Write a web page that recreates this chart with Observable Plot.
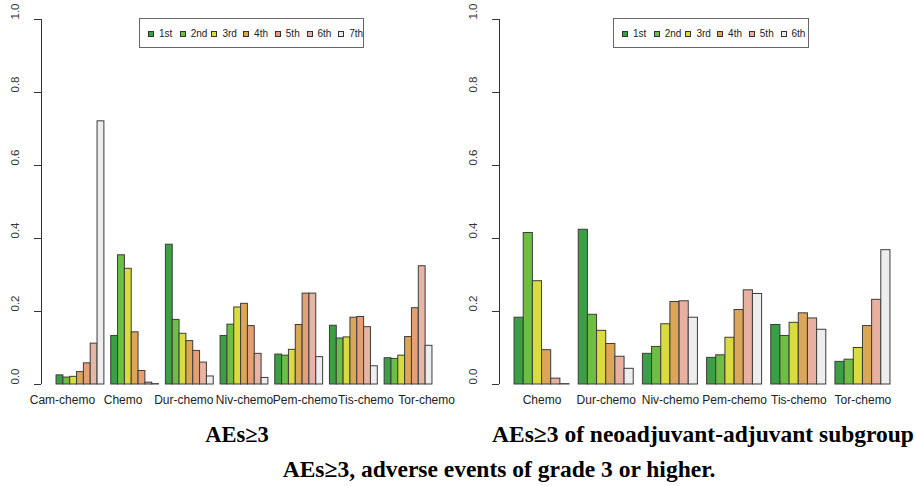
<!DOCTYPE html>
<html>
<head>
<meta charset="utf-8">
<script src="https://cdn.jsdelivr.net/npm/d3@7"></script>
<script src="https://cdn.jsdelivr.net/npm/@observablehq/plot@0.6"></script>
<style>
  html, body { margin: 0; padding: 0; background: #fff; }
  #wrap { position: relative; width: 916px; height: 486px; overflow: hidden; font-family: "Liberation Sans", Arial, sans-serif; }
  .panel { position: absolute; top: 0; }
  .legend { position: absolute; border: 1px solid #666; background: #fff; box-sizing: border-box; }
  .sw { position: absolute; width: 6px; height: 6px; border: 1px solid #333; box-sizing: border-box; }
  .lt { position: absolute; font-family: "Liberation Sans Narrow", "Liberation Sans", Arial, sans-serif; font-size: 10px; line-height: 10px; color: #222; }
  .title { position: absolute; font-family: "Liberation Serif", "Times New Roman", serif; font-weight: bold; font-size: 23.5px; line-height: 24px; white-space: nowrap; text-align: center; color: #000; }
</style>
</head>
<body>
<div id="wrap"></div>
<script>
// ---------- data ----------
const groupsAll = ["Cam-chemo", "Chemo", "Dur-chemo", "Niv-chemo", "Pem-chemo", "Tis-chemo", "Tor-chemo"];
const seriesAll = ["1st", "2nd", "3rd", "4th", "5th", "6th", "7th"];
const valuesAll = [
  [0.025, 0.019, 0.021, 0.034, 0.058, 0.112, 0.721],
  [0.133, 0.354, 0.317, 0.143, 0.037, 0.005, 0.001],
  [0.383, 0.177, 0.139, 0.119, 0.092, 0.060, 0.022],
  [0.133, 0.164, 0.211, 0.221, 0.160, 0.084, 0.018],
  [0.082, 0.079, 0.095, 0.163, 0.249, 0.249, 0.075],
  [0.161, 0.126, 0.129, 0.183, 0.185, 0.157, 0.050],
  [0.072, 0.070, 0.079, 0.130, 0.209, 0.324, 0.106]
];
const colorsAll = ["#3a9f45", "#6ebe44", "#d9db3f", "#dca657", "#e4a074", "#e8b4a5", "#ededed"];

const groupsNeo = ["Chemo", "Dur-chemo", "Niv-chemo", "Pem-chemo", "Tis-chemo", "Tor-chemo"];
const seriesNeo = ["1st", "2nd", "3rd", "4th", "5th", "6th"];
const valuesNeo = [
  [0.183, 0.415, 0.283, 0.094, 0.016, 0.001],
  [0.424, 0.191, 0.147, 0.111, 0.076, 0.043],
  [0.084, 0.103, 0.165, 0.226, 0.228, 0.183],
  [0.073, 0.080, 0.128, 0.204, 0.258, 0.248],
  [0.163, 0.133, 0.169, 0.195, 0.181, 0.150],
  [0.062, 0.068, 0.100, 0.160, 0.232, 0.368]
];
const colorsNeo = ["#3a9f45", "#6ebe44", "#d9db3f", "#dca657", "#e8b0a0", "#ededed"];

const yTicks = [0, 0.2, 0.4, 0.6, 0.8, 1.0];
const titleAll = "AEs≥3";
const titleNeo = "AEs≥3 of neoadjuvant-adjuvant subgroup";
const caption = "AEs≥3, adverse events of grade 3 or higher.";

// ---------- drawing ----------
const wrap = document.getElementById("wrap");
const fmt = d3.format(".1f");

// labelSpread > 1 spreads the group labels outward so crowded names do not collide
function panel(groups, series, values, colors, left, labelSpread) {
  const n = series.length, G = groups.length;
  const rows = [];
  values.forEach((vals, gi) => vals.forEach((v, si) => rows.push({ gi, si, v })));
  const pos = (gi, si) => gi * (n + 1) + si + 1;
  const span = G * (n + 1) - 1;
  const lo = 1 - 0.04 * span, hi = G * (n + 1) + 0.04 * span;
  const mid = 1 + span / 2;
  const centers = groups.map((g, gi) => gi * (n + 1) + 1 + n / 2);
  const labelAt = centers.map(c => mid + (c - mid) * labelSpread);
  const names = new Map(labelAt.map((c, i) => [c, groups[i]]));
  const chart = Plot.plot({
    width: 458, height: 412,
    marginLeft: 41, marginRight: 11, marginTop: 19, marginBottom: 28,
    style: { fontFamily: "Liberation Sans, Arial, sans-serif", background: "transparent" },
    x: { type: "linear", domain: [lo, hi], axis: null, label: null },
    y: { domain: [0, 1], axis: null, label: null },
    color: { type: "identity" },
    marks: [
      Plot.rectY(rows, {
        x1: d => pos(d.gi, d.si), x2: d => pos(d.gi, d.si) + 1, y: "v",
        fill: d => colors[d.si], stroke: "#3c3c3c", strokeWidth: 1
      }),
      Plot.ruleX([lo], { y1: 0, y2: 1, stroke: "#333", strokeWidth: 1 }),
      Plot.axisY({ ticks: yTicks, tickSize: 7, tickFormat: () => "", label: null, stroke: "#333", strokeOpacity: 1 }),
      Plot.text(yTicks, { y: d => d, text: d => fmt(d), frameAnchor: "left", rotate: -90, dx: -26, fontSize: 11.5, fill: "#333", lineAnchor: "middle" }),
      Plot.axisX({ ticks: labelAt, tickSize: 0, tickPadding: 11, tickFormat: c => names.get(c), fontSize: 12, fill: "#222", label: null })
    ]
  });
  chart.classList.add("panel");
  chart.style.left = left + "px";
  wrap.appendChild(chart);
}

panel(groupsAll, seriesAll, valuesAll, colorsAll, 0, 1.11);
panel(groupsNeo, seriesNeo, valuesNeo, colorsNeo, 458, 1.0);

function legend(series, colors, left, width) {
  const box = document.createElement("div");
  box.className = "legend";
  Object.assign(box.style, { left: left + "px", top: "18px", width: width + "px", height: "30px" });
  series.forEach((s, i) => {
    const sw = document.createElement("div");
    sw.className = "sw";
    Object.assign(sw.style, { left: (8 + i * 31.7) + "px", top: "12px", background: colors[i] });
    box.appendChild(sw);
    const t = document.createElement("div");
    t.className = "lt";
    t.textContent = s;
    Object.assign(t.style, { left: (19 + i * 31.7) + "px", top: "10px" });
    box.appendChild(t);
  });
  wrap.appendChild(box);
}
legend(seriesAll, colorsAll, 139, 225);
legend(seriesNeo, colorsNeo, 613, 196);

function title(text, center, top, width, size) {
  const d = document.createElement("div");
  d.className = "title";
  d.textContent = text;
  Object.assign(d.style, { left: (center - width / 2) + "px", top: top + "px", width: width + "px" });
  if (size) d.style.fontSize = size + "px";
  wrap.appendChild(d);
}
title(titleAll, 237, 423, 200, 22.5);
title(titleNeo, 703, 422, 460);
title(caption, 499, 457, 520);
</script>
</body>
</html>
